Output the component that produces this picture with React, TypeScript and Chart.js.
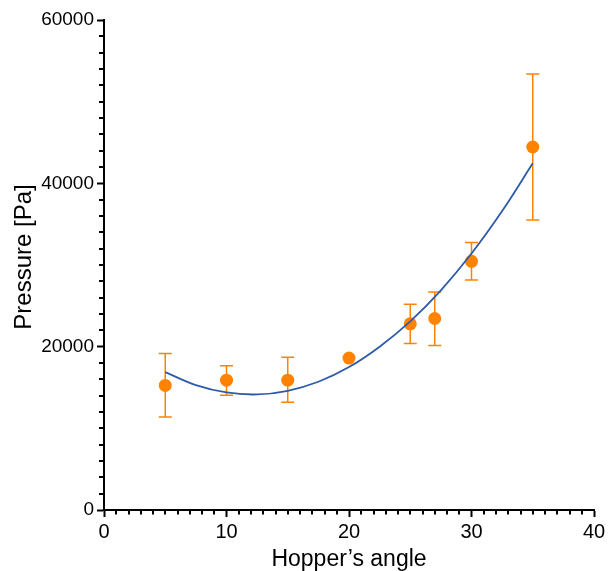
import React, { useEffect, useRef } from "react";
import { Chart, registerables } from "chart.js";

Chart.register(...registerables);

// Measured data (Hopper's angle vs pressure)
const angles = [5, 10, 15, 20, 25, 27, 30, 35];
const pressures = [15250, 15900, 15900, 18600, 22800, 23450, 30450, 44450];
const errLow: (number | null)[] = [11400, 14050, 13200, null, 20400, 20150, 28150, 35500];
const errHigh: (number | null)[] = [19150, 17650, 18700, null, 25200, 26700, 32750, 53400];

// Fitted curve
const fitAngles = [5, 7.5, 10, 12.5, 15, 17.5, 20, 22.5, 25, 27.5, 30, 32.5, 35];
const fitPressures = [16880, 15300, 14400, 14150, 14600, 15700, 17500, 20000, 23100, 26900, 31400, 36600, 42450];

const xTickValues = [0, 10, 20, 30, 40];
const yTickValues = [0, 20000, 40000, 60000];

const xTitle = "Hopper\u2019s angle";
const yTitle = "Pressure [Pa]";

const ORANGE = "#FF8300";
const BLUE = "#2D5BA9";
const FONT = "'Liberation Sans', Arial, Helvetica, sans-serif";

const errorBarPlugin = {
  id: "errorBars",
  beforeDatasetsDraw(chart: any) {
    const { ctx } = chart;
    const x = chart.scales.x;
    const y = chart.scales.y;
    ctx.save();
    ctx.strokeStyle = ORANGE;
    ctx.lineWidth = 1.5;
    angles.forEach((a, i) => {
      const lo = errLow[i];
      const hi = errHigh[i];
      if (lo == null || hi == null) return;
      const px = x.getPixelForValue(a);
      const yl = y.getPixelForValue(lo);
      const yh = y.getPixelForValue(hi);
      const cap = 6.5;
      ctx.beginPath();
      ctx.moveTo(px, yl);
      ctx.lineTo(px, yh);
      ctx.moveTo(px - cap, yl);
      ctx.lineTo(px + cap, yl);
      ctx.moveTo(px - cap, yh);
      ctx.lineTo(px + cap, yh);
      ctx.stroke();
    });
    ctx.restore();
  },
};

const decorPlugin = {
  id: "decor",
  afterDraw(chart: any) {
    const { ctx, chartArea } = chart;
    const x = chart.scales.x;
    const y = chart.scales.y;
    ctx.save();
    ctx.strokeStyle = "#000";
    ctx.lineWidth = 2;
    // minor ticks on x
    ctx.beginPath();
    for (let v = x.min; v <= x.max; v += 1) {
      if (v % 10 === 0) continue;
      const px = Math.round(x.getPixelForValue(v));
      ctx.moveTo(px, chartArea.bottom);
      ctx.lineTo(px, chartArea.bottom + 4.5);
    }
    // minor ticks on y
    for (let v = y.min; v <= y.max; v += 2000) {
      if (v % 20000 === 0) continue;
      const py = Math.round(y.getPixelForValue(v));
      ctx.moveTo(chartArea.left, py);
      ctx.lineTo(chartArea.left - 5, py);
    }
    ctx.stroke();

    // axis titles
    ctx.fillStyle = "#000";
    ctx.textAlign = "center";
    ctx.textBaseline = "middle";
    ctx.font = `23px ${FONT}`;
    ctx.fillText(xTitle, (chartArea.left + chartArea.right) / 2, 559.5);
    ctx.font = `24px ${FONT}`;
    ctx.translate(24, (chartArea.top + chartArea.bottom) / 2 - 8);
    ctx.rotate(-Math.PI / 2);
    ctx.fillText(yTitle, 0, 0);
    ctx.restore();
  },
};

export default function App() {
  const canvasRef = useRef<HTMLCanvasElement | null>(null);

  useEffect(() => {
    const canvas = canvasRef.current;
    if (!canvas) return;
    const chart = new Chart(canvas, {
      type: "scatter",
      data: {
        datasets: [
          {
            type: "line",
            label: "fit",
            data: fitAngles.map((a, i) => ({ x: a, y: fitPressures[i] })),
            borderColor: BLUE,
            borderWidth: 1.8,
            pointRadius: 0,
            showLine: true,
            fill: false,
            tension: 0.4,
            order: 0,
          } as any,
          {
            type: "scatter",
            label: "data",
            data: angles.map((a, i) => ({ x: a, y: pressures[i] })),
            backgroundColor: ORANGE,
            borderWidth: 0,
            pointRadius: 6.5,
            pointHoverRadius: 6.5,
            order: 1,
          },
        ],
      },
      options: {
        responsive: false,
        animation: false,
        events: [],
        layout: { padding: { left: 0, top: 20, right: 18, bottom: 0 } },
        plugins: {
          legend: { display: false },
          tooltip: { enabled: false },
          title: { display: false },
        },
        scales: {
          x: {
            type: "linear",
            min: 0,
            max: 40,
            afterFit: (scale: any) => {
              scale.height = 61;
            },
            afterBuildTicks: (scale: any) => {
              scale.ticks = xTickValues.map((v) => ({ value: v }));
            },
            border: { display: true, color: "#000", width: 2 },
            grid: {
              drawOnChartArea: false,
              drawTicks: true,
              tickLength: 7,
              tickWidth: 2,
              tickColor: "#000",
            },
            ticks: {
              color: "#000",
              font: { family: FONT, size: 20 },
              padding: 3,
              maxRotation: 0,
            },
          },
          y: {
            type: "linear",
            min: 0,
            max: 60000,
            afterFit: (scale: any) => {
              scale.width = 104;
            },
            afterBuildTicks: (scale: any) => {
              scale.ticks = yTickValues.map((v) => ({ value: v }));
            },
            border: { display: true, color: "#000", width: 2 },
            grid: {
              drawOnChartArea: false,
              drawTicks: true,
              tickLength: 7,
              tickWidth: 2,
              tickColor: "#000",
            },
            ticks: {
              color: "#000",
              font: { family: FONT, size: 19 },
              padding: 3,
              callback: (v: any) => String(v),
            },
          },
        },
      },
      plugins: [errorBarPlugin, decorPlugin],
    });
    return () => chart.destroy();
  }, []);

  return (
    <div style={{ position: "absolute", left: 0, top: 0, width: 612, height: 571, background: "#fff" }}>
      <canvas ref={canvasRef} width={612} height={571} style={{ display: "block" }} />
    </div>
  );
}
